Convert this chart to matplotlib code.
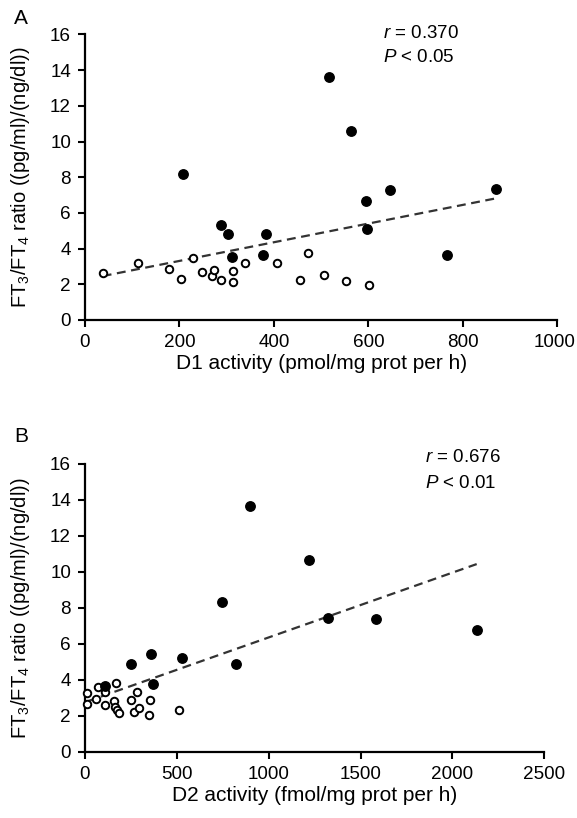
import matplotlib
matplotlib.use("Agg")
import matplotlib.pyplot as plt
import matplotlib.transforms as mtransforms
import numpy as np

plt.rcParams['font.family'] = ['Liberation Sans', 'DejaVu Sans']
plt.rcParams['mathtext.fontset'] = 'custom'
plt.rcParams['mathtext.rm'] = 'Liberation Sans'
plt.rcParams['mathtext.it'] = 'Liberation Sans:italic'

# ---------------- Data: panel A (D1) ----------------
a_filled_x = [206.9, 288.0, 302.1, 311.2, 382.6, 377.5, 517.3, 563.2, 595.0, 597.1, 645.8, 765.8, 869.6]
a_filled_y = [8.20, 5.34, 4.80, 3.55, 4.82, 3.62, 13.60, 10.57, 6.68, 5.11, 7.28, 3.66, 7.34]
a_open_x = [37.5, 112.9, 178.5, 203.9, 229.3, 247.1, 268.9, 272.5, 287.3, 313.4, 313.4, 338.8,
            406.5, 454.2, 472.6, 505.0, 552.6, 600.7]
a_open_y = [2.62, 3.18, 2.86, 2.31, 3.46, 2.71, 2.46, 2.78, 2.22, 2.76, 2.11, 3.21,
            3.21, 2.22, 3.74, 2.50, 2.17, 1.96]
a_fit_x = [37.5, 871.0]
a_fit_y = [2.46, 6.82]

# ---------------- Data: panel B (D2) ----------------
b_filled_x = [108.9, 248.8, 359.3, 371.8, 529.7, 747.4, 820.4, 899.8, 1217.8, 1324.4, 1584.1, 2132.3]
b_filled_y = [3.68, 4.91, 5.44, 3.76, 5.24, 8.32, 4.91, 13.67, 10.67, 7.44, 7.41, 6.78]
b_open_x = [12.5, 12.5, 58, 69, 109, 107, 159.5, 167, 162, 176, 187, 250, 281, 268, 294, 354, 350, 510]
b_open_y = [3.29, 2.68, 2.96, 3.63, 3.33, 2.59, 2.83, 3.82, 2.52, 2.33, 2.18, 2.87, 3.33, 2.24,
            2.44, 2.89, 2.07, 2.33]
b_fit_x = [12.0, 2132.0]
b_fit_y = [2.81, 10.44]

ylabel = 'FT$_3$/FT$_4$ ratio ((pg/ml)/(ng/dl))'
FS = 13.6

W, H = 577, 818
fig = plt.figure(figsize=(W / 100, H / 100), dpi=100)


def px_axes(l, r, t, b):
    return fig.add_axes([l / W, 1 - b / H, (r - l) / W, (b - t) / H])


def style(ax, xmax, xstep, xlabel):
    ax.set_xlim(0, xmax)
    ax.set_ylim(0, 16)
    ax.set_xticks(np.arange(0, xmax + 1, xstep))
    ax.set_yticks(np.arange(0, 17, 2))
    for s in ['top', 'right']:
        ax.spines[s].set_visible(False)
    for s in ['left', 'bottom']:
        ax.spines[s].set_linewidth(1.6)
    ax.tick_params(direction='out', length=5, width=1.5, labelsize=FS, pad=5)
    ax.set_xlabel(xlabel, fontsize=15, labelpad=2)
    ax.set_ylabel(ylabel, fontsize=14.5)
    ax.yaxis.set_label_coords(-53 / ax.bbox.width, 0.5)


def draw(ax, fx, fy, ox, oy, lx, ly):
    ax.plot(lx, ly, linestyle=(0, (4, 2.5)), color='#333333', linewidth=1.6, zorder=2)
    ax.plot(ox, oy, 'o', markerfacecolor='white', markeredgecolor='black',
            markersize=5.4, markeredgewidth=1.4, linestyle='none', zorder=3, clip_on=False)
    ax.plot(fx, fy, 'o', color='black', markersize=6.8, linestyle='none', zorder=4, clip_on=False)


axA = px_axes(85, 557.3, 34.4, 320)
draw(axA, a_filled_x, a_filled_y, a_open_x, a_open_y, a_fit_x, a_fit_y)
style(axA, 1000, 200, 'D1 activity (pmol/mg prot per h)')

axB = px_axes(85, 544.3, 464, 752)
draw(axB, b_filled_x, b_filled_y, b_open_x, b_open_y, b_fit_x, b_fit_y)
style(axB, 2500, 500, 'D2 activity (fmol/mg prot per h)')

# nudge the last D1 tick label so it stays inside the figure
last = axA.get_xticklabels()[-1]
last.set_transform(last.get_transform() +
                   mtransforms.ScaledTranslation(-2.5 / 100, 0, fig.dpi_scale_trans))


def ftext(x, y, s, fs=13.5, **kw):
    fig.text(x / W, 1 - y / H, s, fontsize=fs, va='center', **kw)


ftext(14, 19, 'A', fs=15)
ftext(14, 436, 'B', fs=15)
ftext(383, 34, '$r$ = 0.370')
ftext(383, 57, '$P$ < 0.05')
ftext(425, 458, '$r$ = 0.676')
ftext(425, 483, '$P$ < 0.01')

fig.savefig('out.png', dpi=100, facecolor='white')
